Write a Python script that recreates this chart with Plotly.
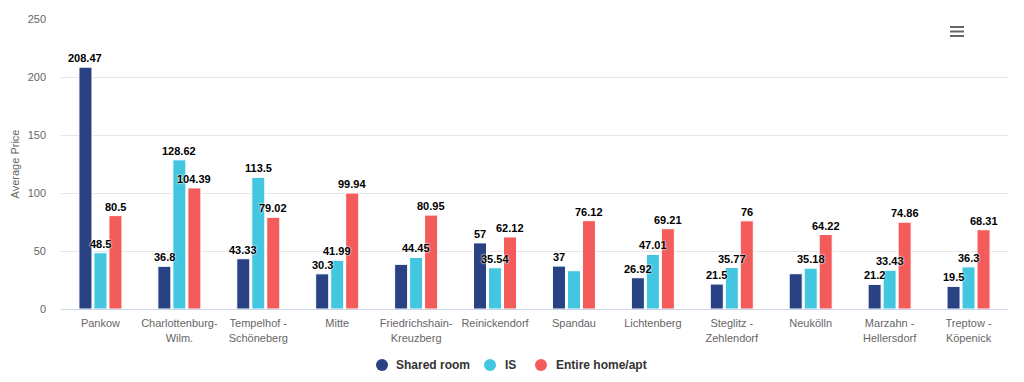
import plotly.graph_objects as go

categories = ["Pankow", "Charlottenburg-<br>Wilm.", "Tempelhof -<br>Schöneberg", "Mitte",
              "Friedrichshain-<br>Kreuzberg", "Reinickendorf", "Spandau", "Lichtenberg",
              "Steglitz -<br>Zehlendorf", "Neukölln", "Marzahn -<br>Hellersdorf", "Treptow -<br>Köpenick"]
shared_room = [208.47, 36.8, 43.33, 30.3, 38.5, 57, 37, 26.92, 21.5, 30.4, 21.2, 19.5]
is_values = [48.5, 128.62, 113.5, 41.99, 44.45, 35.54, 33.0, 47.01, 35.77, 35.18, 33.43, 36.3]
entire_home = [80.5, 104.39, 79.02, 99.94, 80.95, 62.12, 76.12, 69.21, 76, 64.22, 74.86, 68.31]
# labels hidden in the reference (overlap avoidance)
shared_hidden = [4, 9]
is_hidden = [6]

series_names = ["Shared room", "IS", "Entire home/apt"]
colors = ["#284284", "#43c7e0", "#f45b5b"]
series_values = [shared_room, is_values, entire_home]
series_hidden = [shared_hidden, is_hidden, []]

# page body has an 8px margin; figure coordinates are screen coordinates minus 8
OFF = 8
W, H = 1024 - OFF, 382 - OFF
L, R, T, B = 61 - OFF, 16, 19 - OFF, 73
pw = W - L - R
ph = H - T - B

def px(x):  # screen x -> paper
    return (x - OFF - L) / pw

def py(y):  # screen y -> paper
    return (H - B - (y - OFF)) / ph

# bar geometry in category units
slot = 0.19
bar_w = 0.165

fig = go.Figure()
annotations = []
for k, (name, vals, hid, col) in enumerate(zip(series_names, series_values, series_hidden, colors)):
    center = (k - 1) * slot
    fig.add_trace(go.Bar(
        x=categories, y=vals, name=name, width=bar_w, offset=center - bar_w / 2,
        marker=dict(color=col, line=dict(color="white", width=1)),
        showlegend=False, hoverinfo="x+y+name"))
    for i, v in enumerate(vals):
        if i in hid:
            continue
        annotations.append(dict(
            x=i + center, y=v, xref="x", yref="y", text=f"<b>{v:g}</b>", showarrow=False,
            xanchor="center", yanchor="bottom", yshift=1,
            font=dict(family="Liberation Sans, Arial", size=11, color="#000000",
                      shadow="0px 0px 2px white, 0px 0px 2px white")))

# legend drawn as circles + text (compact Highcharts-style)
legend_marks = [(382, 394), (490, 503), (541, 554)]
shapes = []
for (cx, tx), name, col in zip(legend_marks, series_names, colors):
    shapes.append(dict(type="circle", xref="paper", yref="paper",
                       x0=px(cx - 6), x1=px(cx + 6), y0=py(365 + 6), y1=py(365 - 6),
                       fillcolor=col, line=dict(width=0)))
    annotations.append(dict(x=px(tx), y=py(365), xref="paper", yref="paper", text=f"<b>{name}</b>",
                            showarrow=False, xanchor="left", yanchor="middle",
                            font=dict(size=12, color="#333333")))

# menu icon
for yy in (27, 31.5, 36):
    shapes.append(dict(type="line", xref="paper", yref="paper", x0=px(950), x1=px(964),
                       y0=py(yy), y1=py(yy), line=dict(color="#666666", width=2)))

fig.update_layout(
    width=W, height=H,
    margin=dict(l=L, r=R, t=T, b=B, autoexpand=False),
    paper_bgcolor="white", plot_bgcolor="white",
    font=dict(family="Liberation Sans, Arial", color="#666666", size=11),
    barmode="overlay",
    showlegend=False,
    xaxis=dict(showgrid=False, showline=True, linecolor="#ccd6eb", linewidth=1, automargin=False,
               ticks="", tickfont=dict(size=11, color="#666666"), ticklabelstandoff=4, fixedrange=True),
    yaxis=dict(range=[0, 250], tickvals=[0, 50, 100, 150, 200, 250], showgrid=True, automargin=False,
               gridcolor="#e6e6e6", gridwidth=1, zeroline=False, showline=False,
               tickfont=dict(size=11, color="#666666"), ticklabelstandoff=14,
               title=dict(text="Average Price", font=dict(size=11, color="#666666"), standoff=5)),
    shapes=shapes,
    annotations=annotations,
)

fig.write_html("out.html")
